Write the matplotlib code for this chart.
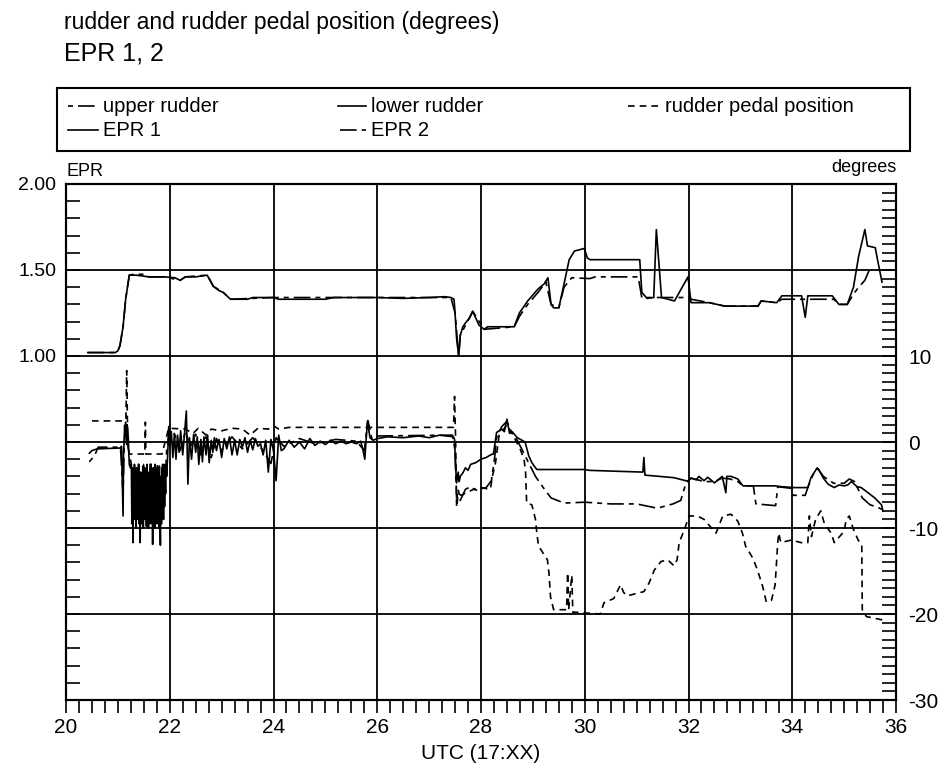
import matplotlib
matplotlib.use("Agg")
import matplotlib.pyplot as plt
from matplotlib.lines import Line2D
from matplotlib.ticker import FixedLocator, MultipleLocator, FormatStrFormatter

plt.rcParams["font.family"] = ["Liberation Sans", "DejaVu Sans"]
plt.rcParams["axes.unicode_minus"] = False

# ─── EPR (engine pressure ratio) ────────────────────────────────────────────
epr1_t = [20.42, 20.95, 21.00, 21.04, 21.10, 21.15, 21.22, 21.35, 21.60, 21.90,
          22.10, 22.20, 22.30, 22.50, 22.72, 22.78, 22.84, 22.95, 23.03, 23.17,
          23.50, 23.60, 24.00, 24.10, 24.60, 25.00, 25.16, 26.00, 26.50, 27.00,
          27.30, 27.42, 27.48, 27.50, 27.53, 27.57, 27.60, 27.65, 27.72, 27.78,
          27.84, 27.90, 27.96, 28.06, 28.13, 28.64, 28.74, 28.90, 29.10, 29.22,
          29.29, 29.35, 29.40, 29.50, 29.58, 29.70, 29.80, 29.99, 30.05, 30.10,
          31.06, 31.10, 31.20, 31.33, 31.38, 31.48, 31.73, 31.99, 32.05, 32.40,
          32.70, 33.34, 33.40, 33.70, 33.80, 34.18, 34.25, 34.30, 34.77, 34.90,
          35.06, 35.18, 35.28, 35.40, 35.45, 35.60, 35.65, 35.73]
epr1 = [1.02, 1.02, 1.03, 1.06, 1.17, 1.33, 1.47, 1.47, 1.46, 1.46,
        1.455, 1.44, 1.46, 1.46, 1.47, 1.44, 1.405, 1.38, 1.37, 1.33,
        1.33, 1.34, 1.34, 1.33, 1.33, 1.33, 1.34, 1.34, 1.335, 1.34,
        1.345, 1.34, 1.33, 1.25, 1.10, 1.00, 1.12, 1.17, 1.20, 1.22,
        1.26, 1.22, 1.18, 1.155, 1.17, 1.17, 1.25, 1.32, 1.39, 1.42,
        1.455, 1.30, 1.28, 1.28, 1.39, 1.56, 1.61, 1.625, 1.57, 1.56,
        1.56, 1.37, 1.335, 1.34, 1.735, 1.34, 1.32, 1.46, 1.31, 1.31,
        1.29, 1.29, 1.32, 1.31, 1.35, 1.35, 1.225, 1.35, 1.35, 1.30,
        1.30, 1.40, 1.58, 1.735, 1.64, 1.63, 1.55, 1.43]

epr2_t = [20.42, 20.95, 21.00, 21.04, 21.10, 21.15, 21.22, 21.30, 21.50, 21.60,
          21.90, 22.20, 22.30, 22.72, 22.84, 23.03, 23.17, 24.00, 25.16, 27.00,
          27.42, 27.50, 27.57, 27.60, 27.84, 28.06, 28.64, 28.74, 28.90, 29.10,
          29.25, 29.35, 29.50, 29.60, 29.75, 30.10, 30.20, 31.03, 31.10, 31.95,
          32.05, 32.40, 32.70, 33.34, 33.40, 33.70, 33.80, 34.80, 34.90, 35.06,
          35.18, 35.28, 35.40, 35.50]
epr2 = [1.02, 1.02, 1.03, 1.06, 1.17, 1.33, 1.47, 1.475, 1.475, 1.46,
        1.46, 1.44, 1.46, 1.47, 1.405, 1.37, 1.33, 1.34, 1.34, 1.34,
        1.34, 1.25, 1.00, 1.12, 1.26, 1.155, 1.17, 1.23, 1.30, 1.37,
        1.43, 1.30, 1.28, 1.40, 1.455, 1.45, 1.46, 1.46, 1.34, 1.34,
        1.33, 1.31, 1.29, 1.29, 1.32, 1.31, 1.33, 1.33, 1.30, 1.30,
        1.36, 1.40, 1.44, 1.51]

# ─── Lower rudder (degrees) ─────────────────────────────────────────────────
lower_t = [20.45, 20.50, 20.60, 20.80, 21.05, 21.07, 21.10, 21.11, 21.14, 21.15,
           21.17, 21.18, 21.20, 21.22, 21.24,
           21.26, 21.27, 21.28, 21.29, 21.30, 21.31, 21.32, 21.33, 21.34, 21.35,
           21.36, 21.37, 21.38, 21.39, 21.40, 21.41, 21.42, 21.43, 21.44, 21.45,
           21.46, 21.47, 21.48, 21.49, 21.50, 21.51, 21.52, 21.53, 21.54, 21.55,
           21.56, 21.57, 21.58, 21.59, 21.60, 21.61, 21.62, 21.63, 21.64, 21.65,
           21.66, 21.67, 21.68, 21.69, 21.70, 21.71, 21.72, 21.73, 21.74, 21.75,
           21.76, 21.77, 21.78, 21.79, 21.80, 21.81, 21.82, 21.83, 21.84, 21.85,
           21.86, 21.87, 21.88, 21.89, 21.90, 21.91, 21.92, 21.93, 21.94, 21.96,
           21.98, 22.00, 22.03, 22.06, 22.09, 22.12, 22.15, 22.18, 22.21, 22.25,
           22.28, 22.32, 22.35, 22.38, 22.42, 22.46, 22.50, 22.53, 22.56, 22.60,
           22.63, 22.66, 22.70, 22.73, 22.76, 22.80, 22.83, 22.86, 22.90, 22.95,
           23.00, 23.05, 23.10, 23.15, 23.20, 23.25, 23.30, 23.35, 23.40, 23.45,
           23.50, 23.55, 23.60, 23.65, 23.70, 23.75, 23.80, 23.85, 23.90, 23.95,
           24.00, 24.05, 24.10, 24.15, 24.20, 24.30,
           24.40, 24.50, 24.60, 24.70, 24.80, 24.90, 25.00, 25.10, 25.20, 25.30,
           25.40, 25.50, 25.60, 25.68, 25.72, 25.76, 25.81, 25.86, 25.92, 26.00,
           26.20, 26.50, 26.80, 27.00, 27.20, 27.47, 27.49, 27.51, 27.53, 27.56,
           27.58, 27.60, 27.65, 27.70, 27.75, 27.80, 27.90, 28.00, 28.10, 28.20,
           28.24, 28.30, 28.40, 28.45, 28.50, 28.55, 28.60, 28.70, 28.76, 28.85,
           28.92, 28.98, 29.05, 29.08, 29.98, 30.10, 31.08, 31.12, 31.14, 31.16,
           31.72, 31.98, 32.05, 32.15, 32.20, 32.30, 32.37, 32.50, 32.65, 32.72,
           32.74, 32.82, 32.95, 33.05, 33.14, 33.66, 33.80, 34.04, 34.30, 34.36,
           34.46, 34.50, 34.60, 34.69, 34.81, 34.90, 35.00, 35.07, 35.14, 35.25,
           35.33, 35.46, 35.59, 35.72, 35.75]
lower = [-1.3, -1.0, -0.8, -0.75, -0.7, -0.5, -8.6, -1.0, 1.5, 2.3,
         -0.3, 2.0, 0.5, -2.6, -3.0,
         -2.6, -9.5, -3.0, -11.7, -4.0, -9.0, -2.6, -8.5, -4.5, -10.0,
         -3.0, -9.0, -4.5, -8.0, -2.6, -9.5, -4.0, -11.7, -3.5, -9.5,
         -4.5, -8.5, -2.8, -10.0, -4.0, -9.0, -3.0, -8.0, -4.5, -9.8,
         -2.6, -9.0, -4.0, -10.0, -3.5, -8.5, -4.5, -9.5, -2.6, -8.0,
         -4.0, -11.9, -3.0, -9.0, -4.5, -10.0, -2.6, -8.5, -4.0, -9.5,
         -3.0, -8.0, -4.5, -10.0, -2.8, -9.0, -12.0, -4.0, -9.5, -3.0,
         -8.5, -4.5, -9.0, -2.6, -7.5, -4.0, -6.0, -2.6, -4.0, -1.5,
         1.8, -0.5, 1.2, -1.8, 1.0, -2.0, 0.8, -1.2, 1.3, -1.5,
         0.6, 3.6, -4.9, 0.5, -2.0, 0.9, -1.2, 0.6, -2.6, 0.3,
         -2.3, 0.6, -1.5, 0.8, -2.4, 0.2, -1.2, 0.5, -1.0, 0.3,
         -1.8, 0.4, -0.8, 0.6, -1.5, 0.2, -1.5, 0.3, -0.6, 0.5,
         -1.2, 0.2, -0.9, 0.4, -0.5, -0.2, -1.5, 0.2, -3.5, 0.3,
         -1.0, -4.5, 0.8, -1.0, -0.8, 0.2,
         -0.6, 0.0, -0.8, 0.4, -0.4, 0.1, -0.3, 0.2, -0.2, 0.1,
         -0.2, 0.0, -0.2, 0.1, -0.8, -2.0, 2.4, 0.5, 0.2, 0.4,
         0.6, 0.5, 0.7, 0.5, 0.8, 0.6, 0.3, -2.8, -4.75, -3.5,
         -4.6, -4.0, -3.6, -3.0, -3.3, -2.6, -2.4, -2.0, -1.8, -1.45,
         -1.4, 1.1, 1.5, 1.2, 2.65, 1.0, 1.2, 0.5, 0.3, 0.0,
         -1.6, -2.4, -3.0, -3.2, -3.2, -3.3, -3.5, -3.5, -1.8, -3.85,
         -4.15, -4.55, -4.2, -4.4, -4.0, -4.5, -4.1, -4.75, -4.0, -5.9,
         -4.0, -4.0, -4.3, -5.1, -5.1, -5.1, -5.2, -5.3, -5.3, -4.15,
         -3.2, -3.1, -4.2, -4.9, -5.3, -5.0, -5.1, -5.0, -4.6, -5.2,
         -5.3, -5.9, -6.5, -7.3, -8.05]

# ─── Upper rudder (degrees) ─────────────────────────────────────────────────
upper_t = [20.45, 20.55, 20.62, 21.05, 21.10, 21.13, 21.17, 21.20,
           21.26, 21.28, 21.30, 21.32, 21.34, 21.36, 21.38, 21.40, 21.42, 21.44,
           21.46, 21.48, 21.50, 21.52, 21.54, 21.56, 21.58, 21.60, 21.62, 21.64,
           21.66, 21.68, 21.70, 21.72, 21.74, 21.76, 21.78, 21.80, 21.82, 21.84,
           21.86, 21.88, 21.90, 21.94,
           22.00, 22.10, 22.20, 22.30, 22.40, 22.50, 22.60,
           22.70, 22.80, 22.90, 23.00, 23.20, 23.40, 23.60, 23.80, 23.95, 24.05,
           24.20, 24.50, 24.80, 25.20, 25.60, 25.75, 25.82, 25.90, 26.00, 27.45,
           27.50, 27.53, 27.56, 27.60, 27.70, 27.80, 27.90, 28.10, 28.20, 28.26,
           28.30, 28.40, 28.50, 28.60, 28.70, 28.80, 28.95, 29.05, 29.20, 29.35,
           29.60, 30.00, 30.50, 31.00, 31.40, 31.70, 31.85, 31.95, 32.05, 32.30,
           32.50, 32.65, 32.80, 32.95, 33.05, 33.25, 33.30, 33.68, 33.72, 34.00,
           34.02, 34.25, 34.30, 34.40, 34.48, 34.60, 34.80, 35.00, 35.10, 35.20,
           35.35, 35.50, 35.65, 35.75]
upper = [-2.3, -1.6, -0.6, -0.6, -6.0, 2.0, 1.0, -0.8,
         -2.6, -2.7, -7.0, -4.1, -4.1, -8.5, -2.6, -2.6, -6.5, -4.1,
         -4.1, -9.0, -2.6, -2.6, -7.5, -4.1, -4.1, -8.0, -2.6, -2.6,
         -6.0, -4.1, -4.1, -9.0, -2.6, -2.6, -7.0, -4.1, -4.1, -8.0,
         -2.6, -3.0, -6.0, -1.0,
         1.5, 0.8, -1.0, 1.2, -0.5, 0.9, -1.5,
         0.6, -1.8, 0.4, -1.0, 0.6, -0.8, 0.5, -1.0, -2.5, 0.5,
         -0.5, 0.4, -0.2, 0.3, 0.1, -1.0, 2.5, 0.3, 0.7, 0.8,
         -1.0, -6.5, -5.5, -6.8, -5.5, -5.2, -5.6, -5.3, -4.5, -2.0,
         0.5, 1.8, 2.4, 1.0, 0.2, -1.0, -2.8, -4.0, -5.3, -6.5,
         -7.1, -7.0, -7.2, -7.2, -7.7, -7.2, -6.8, -4.8, -4.2, -4.6,
         -4.6, -4.2, -4.3, -4.6, -5.1, -5.1, -7.2, -7.4, -5.2, -5.4,
         -6.2, -6.2, -5.3, -3.8, -3.0, -4.0, -4.8, -4.8, -4.3, -4.6,
         -6.5, -7.3, -7.6, -7.9]

# ─── Rudder pedal position (degrees) ────────────────────────────────────────
pedal_t = [20.50, 21.08, 21.12, 21.15, 21.17, 21.19, 21.22, 21.52, 21.53, 21.54,
           21.85, 21.98, 22.30, 22.45, 22.55, 22.70, 22.80, 23.00, 23.20, 23.40,
           23.55, 23.70, 23.90, 24.00, 24.10, 24.30, 27.47, 27.49, 27.51, 27.53,
           27.56, 27.62, 27.75, 27.86, 28.00, 28.18, 28.22, 28.28, 28.35, 28.50,
           28.60, 28.76, 28.83, 28.86, 28.88, 28.98, 29.05, 29.08, 29.11, 29.28,
           29.31, 29.34, 29.40, 29.65, 29.67, 29.69, 29.75, 29.77, 29.85, 30.05,
           30.30, 30.37, 30.56, 30.69, 30.75, 30.82, 31.00, 31.14, 31.24, 31.34,
           31.47, 31.60, 31.72, 31.78, 31.82, 31.92, 32.01, 32.17, 32.30, 32.53,
           32.66, 32.82, 32.95, 33.04, 33.10, 33.24, 33.33, 33.43, 33.50, 33.60,
           33.67, 33.70, 33.72, 33.74, 33.78, 33.98, 34.17, 34.30, 34.33, 34.37,
           34.45, 34.55, 34.62, 34.75, 34.81, 35.00, 35.04, 35.10, 35.17, 35.27,
           35.34, 35.35, 35.43, 35.59, 35.75]
pedal = [2.45, 2.45, 2.3, 1.0, 8.3, 0.0, -1.4, -1.4, 2.3, -1.4,
         -1.4, 1.6, 1.5, 1.0, 1.6, 0.8, 1.5, 1.3, 1.6, 1.5,
         0.8, 1.6, 1.5, 1.9, 1.5, 1.7, 1.7, 5.3, 0.5, -7.6,
         -6.0, -6.2, -5.8, -5.5, -5.3, -5.5, -4.0, -2.4, 0.8, 2.0,
         1.0, -0.9, -2.0, -3.6, -7.1, -7.3, -9.0, -10.8, -12.1, -13.7,
         -15.2, -18.0, -19.5, -19.5, -15.2, -19.5, -15.5, -19.8, -19.8, -19.9,
         -20.0, -18.7, -18.2, -16.6, -17.5, -17.9, -17.6, -17.4, -16.4, -14.9,
         -13.9, -13.7, -14.4, -13.7, -11.7, -10.2, -8.6, -8.6, -9.0, -10.6,
         -8.6, -8.4, -9.2, -10.6, -12.1, -13.5, -14.9, -16.8, -18.6, -18.4,
         -16.6, -13.7, -11.7, -10.6, -11.7, -11.4, -11.7, -11.7, -8.6, -11.0,
         -9.0, -8.0, -9.5, -10.6, -11.7, -10.4, -9.0, -8.6, -10.0, -11.4,
         -11.9, -19.5, -20.3, -20.5, -20.7]

# ─── Line styles ────────────────────────────────────────────────────────────
STY_UPPER = (0, (3, 3, 10, 3))
STY_PEDAL = (0, (4, 3))
STY_EPR2 = (0, (10, 3, 3, 3))
LW = 1.2

fig = plt.figure(figsize=(9.46, 7.70), dpi=100)
W, H = 946.0, 770.0

def fx(px):
    return px / W

def fy(py):
    return 1.0 - py / H

# Main axes: EPR on the left, degrees on the right (twin)
ax = fig.add_axes([fx(66), fy(700), fx(896) - fx(66), fy(184) - fy(700)])
axd = ax.twinx()

ax.set_xlim(20, 36)
ax.set_ylim(-1.0, 2.0)
axd.set_ylim(-30, 30)

# Rudder traces on the degree axis
axd.plot(lower_t, lower, color="black", lw=LW)
axd.plot(upper_t, upper, color="black", lw=LW, linestyle=STY_UPPER)
axd.plot(pedal_t, pedal, color="black", lw=LW, linestyle=STY_PEDAL)

# EPR traces on the EPR axis
ax.plot(epr1_t, epr1, color="black", lw=LW)
ax.plot(epr2_t, epr2, color="black", lw=LW, linestyle=STY_EPR2)

# ─── Grid and ticks ─────────────────────────────────────────────────────────
for xv in range(22, 36, 2):
    ax.axvline(xv, color="black", lw=1.3, zorder=0)
for yv in (-20, -10, 0, 10, 20):
    axd.axhline(yv, color="black", lw=1.3, zorder=0)

ax.xaxis.set_major_locator(MultipleLocator(2))
ax.xaxis.set_minor_locator(MultipleLocator(0.25))
ax.tick_params(axis="x", which="both", direction="out", length=9, width=1.2,
               labelsize=15, pad=4)

ax.yaxis.set_major_locator(FixedLocator([1.0, 1.5, 2.0]))
ax.yaxis.set_major_formatter(FormatStrFormatter("%.2f"))
ax.yaxis.set_minor_locator(MultipleLocator(0.1))
ax.tick_params(axis="y", which="both", direction="in", length=10, width=1.2,
               labelsize=14, pad=7)

axd.yaxis.set_major_locator(FixedLocator([-30, -20, -10, 0, 10]))
axd.yaxis.set_minor_locator(MultipleLocator(1))
axd.tick_params(axis="y", which="both", direction="in", length=10, width=1.2,
                labelsize=15, pad=9)

for a in (ax, axd):
    for s in a.spines.values():
        s.set_linewidth(1.5)

ax.set_xlabel("UTC (17:XX)", fontsize=15, labelpad=5)
fig.text(fx(66), fy(171), "EPR", fontsize=13, ha="left", va="center")
fig.text(fx(896), fy(167), "degrees", fontsize=13, ha="right", va="center")

# ─── Titles ─────────────────────────────────────────────────────────────────
fig.text(fx(64), fy(23), "rudder and rudder pedal position (degrees)",
         fontsize=16.5, ha="left", va="center")
fig.text(fx(64), fy(54), "EPR 1, 2", fontsize=18, ha="left", va="center")

# ─── Legend box ─────────────────────────────────────────────────────────────
lax = fig.add_axes([fx(57), fy(151), fx(910) - fx(57), fy(88) - fy(151)])
lax.set_xlim(57, 910)
lax.set_ylim(151, 88)
lax.set_xticks([])
lax.set_yticks([])
for s in lax.spines.values():
    s.set_linewidth(1.5)

entries = [
    (68, 98, 106, STY_UPPER, "upper rudder"),
    (338, 366, 106, "-", "lower rudder"),
    (628, 660, 106, STY_PEDAL, "rudder pedal position"),
    (68, 98, 130, "-", "EPR 1"),
    (340, 366, 130, STY_EPR2, "EPR 2"),
]
for x0, x1, yy, ls, label in entries:
    lax.add_line(Line2D([x0, x1], [yy, yy], color="black", lw=LW, linestyle=ls))
    lax.text(x1 + 5, yy, label, fontsize=14.5, ha="left", va="center")

fig.savefig("out.png", dpi=100)
